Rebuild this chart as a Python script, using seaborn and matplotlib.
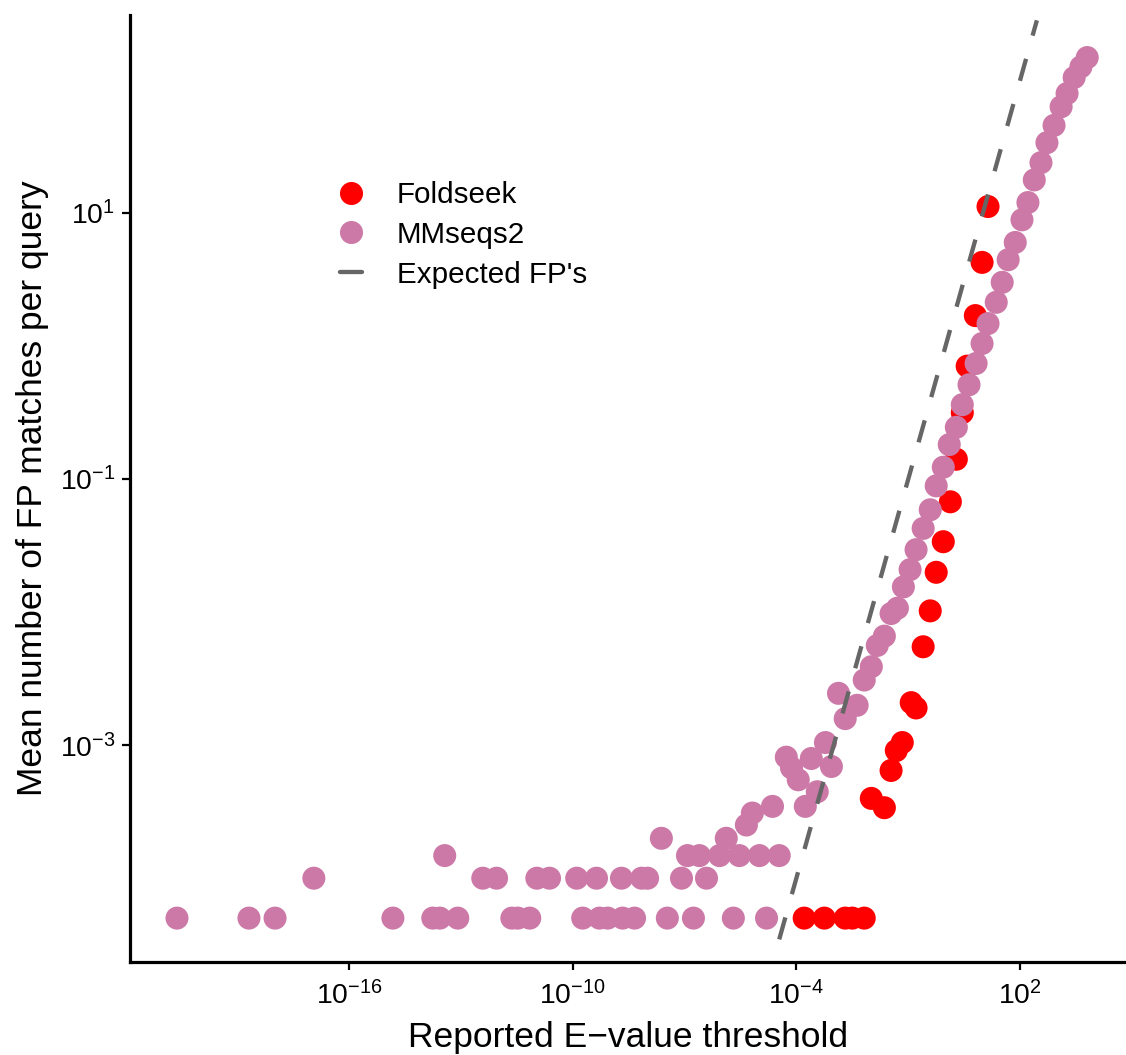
import numpy as np
import pandas as pd
import matplotlib
matplotlib.use("Agg")
import matplotlib.pyplot as plt
import seaborn as sns
from matplotlib.lines import Line2D
from matplotlib.ticker import FixedLocator, FuncFormatter, NullLocator

# ---- data (log10 of values) ----
foldseek_log10_evalue = [-3.79, -3.25, -2.69, -2.50, -2.18, -1.99, -1.64, -1.46, -1.32, -1.16,
                         -0.92, -0.79, -0.60, -0.41, -0.25, -0.06, 0.13, 0.29, 0.45, 0.58,
                         0.80, 0.98, 1.14]
foldseek_log10_fp = [-4.30, -4.30, -4.30, -4.30, -4.30, -3.40, -3.47, -3.19, -3.04, -2.98,
                     -2.68, -2.72, -2.26, -1.99, -1.70, -1.47, -1.17, -0.85, -0.50, -0.15,
                     0.23, 0.63, 1.05]

mmseqs_log10_evalue = [-20.61, -18.68, -17.98, -14.82, -13.75, -13.56, -13.08, -11.63, -11.47, -11.15,
                       -9.73, -9.28, -9.06, -8.66, -8.34, -7.46, -6.76, -5.69, -4.80,
                       -16.94, -12.41, -12.04, -10.96, -10.62, -9.89, -9.36, -8.69, -8.15, -7.99,
                       -7.08, -6.41,
                       -13.43, -6.92, -6.60, -6.06, -5.53, -4.99, -4.46,
                       -7.62, -5.88,
                       -5.34, -5.18, -4.64, -4.27, -4.13, -3.95, -3.76, -3.44, -3.60, -3.22,
                       -3.06, -2.87, -2.69, -2.37, -2.18, -1.99, -1.83, -1.64, -1.46, -1.29,
                       -1.13, -0.95, -0.79, -0.60, -0.41, -0.25, -0.06, 0.10, 0.29, 0.45,
                       0.63, 0.82, 0.98, 1.14, 1.36, 1.52, 1.68, 1.87, 2.05, 2.21,
                       2.38, 2.56, 2.72, 2.91, 3.10, 3.26, 3.45, 3.63, 3.80]
mmseqs_log10_fp = [-4.30, -4.30, -4.30, -4.30, -4.30, -4.30, -4.30, -4.30, -4.30, -4.30,
                   -4.30, -4.30, -4.30, -4.30, -4.30, -4.30, -4.30, -4.30, -4.30,
                   -4.00, -4.00, -4.00, -4.00, -4.00, -4.00, -4.00, -4.00, -4.00, -4.00,
                   -4.00, -4.00,
                   -3.83, -3.83, -3.83, -3.83, -3.83, -3.83, -3.83,
                   -3.70, -3.70,
                   -3.60, -3.51, -3.46, -3.09, -3.17, -3.26, -3.46, -3.35, -3.10, -2.98,
                   -3.16, -2.61, -2.80, -2.70, -2.51, -2.41, -2.25, -2.18, -2.01, -1.97,
                   -1.81, -1.68, -1.53, -1.37, -1.23, -1.05, -0.91, -0.74, -0.61, -0.44,
                   -0.29, -0.13, 0.02, 0.17, 0.33, 0.48, 0.65, 0.78, 0.95, 1.08,
                   1.25, 1.38, 1.53, 1.66, 1.80, 1.90, 2.02, 2.10, 2.17]

expected_log10_evalue = [-4.46, 2.45]   # expected FP's: y = x

methods = ["Foldseek", "MMseqs2"]
colors = {"Foldseek": "#FF0000", "MMseqs2": "#CC79A7"}
x_ticks_exp = [-16, -10, -4, 2]
y_ticks_exp = [-3, -1, 1]

# ---- style ----
sns.set_theme(style="ticks")
plt.rcParams['font.family'] = ['Liberation Sans', 'DejaVu Sans']
plt.rcParams['mathtext.fontset'] = 'custom'
plt.rcParams['mathtext.rm'] = 'Liberation Sans'
plt.rcParams['mathtext.it'] = 'Liberation Sans:italic'
plt.rcParams['mathtext.bf'] = 'Liberation Sans:bold'

df = pd.concat([
    pd.DataFrame({"method": "Foldseek",
                  "evalue": 10.0 ** np.array(foldseek_log10_evalue),
                  "fp": 10.0 ** np.array(foldseek_log10_fp)}),
    pd.DataFrame({"method": "MMseqs2",
                  "evalue": 10.0 ** np.array(mmseqs_log10_evalue),
                  "fp": 10.0 ** np.array(mmseqs_log10_fp)}),
], ignore_index=True)

exp_df = pd.DataFrame({"evalue": 10.0 ** np.array(expected_log10_evalue),
                       "fp": 10.0 ** np.array(expected_log10_evalue)})

W, H = 1126, 1055
fig = plt.figure(figsize=(W / 100, H / 100), dpi=100)
ax = fig.add_axes([130 / W, 1 - 962 / H, (W - 130) / W, (962 - 15) / H])

sns.scatterplot(data=df, x="evalue", y="fp", hue="method", hue_order=methods,
                palette=colors, s=275, linewidth=0, alpha=1, ax=ax, legend=False, zorder=2)
sns.lineplot(data=exp_df, x="evalue", y="fp", ax=ax, color="#666666", linewidth=3.1,
             linestyle=(0, (5.3, 5.6)), zorder=3, estimator=None)

ax.set_xscale("log")
ax.set_yscale("log")
ax.set_xlim(10 ** -21.87, 10 ** 4.84)
ax.set_ylim(10 ** -4.63, 10 ** 2.49)

ax.xaxis.set_major_locator(FixedLocator([10.0 ** e for e in x_ticks_exp]))
ax.yaxis.set_major_locator(FixedLocator([10.0 ** e for e in y_ticks_exp]))
ax.xaxis.set_minor_locator(NullLocator())
ax.yaxis.set_minor_locator(NullLocator())
fmt = FuncFormatter(lambda v, p: r"$\mathregular{10^{%d}}$" % int(round(np.log10(v))))
ax.xaxis.set_major_formatter(fmt)
ax.yaxis.set_major_formatter(fmt)

ax.tick_params(axis="both", which="major", direction="out", length=5.5, width=1.6,
               color="black", labelsize=20.4, labelcolor="black")
ax.tick_params(axis="x", pad=8)
ax.tick_params(axis="y", pad=5)

for side in ["top", "right"]:
    ax.spines[side].set_visible(False)
for side in ["left", "bottom"]:
    ax.spines[side].set_linewidth(2.3)
    ax.spines[side].set_color("black")

ax.set_xlabel("Reported E\u2212value threshold", fontsize=25.5, color="black", labelpad=8)
ax.set_ylabel("Mean number of FP matches per query", fontsize=25.5, color="black", labelpad=8)

handles = [
    Line2D([], [], marker="o", linestyle="", markersize=16.6, markeredgewidth=0,
           color=colors["Foldseek"]),
    Line2D([], [], marker="o", linestyle="", markersize=16.6, markeredgewidth=0,
           color=colors["MMseqs2"]),
    Line2D([], [], color="#666666", linewidth=3.1, linestyle="-"),
]
leg = ax.legend(handles, ["Foldseek", "MMseqs2", "Expected FP's"], loc="upper left",
                bbox_to_anchor=(340 / W, 1 - 181 / H), bbox_transform=fig.transFigure,
                frameon=False, fontsize=21.3, handlelength=0.75, handletextpad=1.18,
                labelspacing=0.4, borderpad=0, borderaxespad=0)
for t in leg.get_texts():
    t.set_color("black")

fig.savefig("out.png", dpi=100)
